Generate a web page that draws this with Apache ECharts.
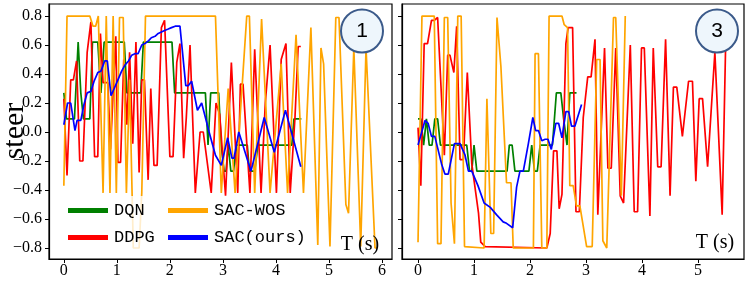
<!DOCTYPE html>
<html><head><meta charset="utf-8">
<script src="https://cdn.jsdelivr.net/npm/echarts@6/dist/echarts.min.js"></script>
<style>html,body{margin:0;padding:0;background:#fff}#c{width:747px;height:281px}</style>
</head><body><div id="c"></div>
<script>
// ---- tick labels ----
const xTicksLeft = [0, 1, 2, 3, 4, 5, 6];
const xTicksRight = [0, 1, 2, 3, 4, 5];
const yTicks = [-0.8, -0.6, -0.4, -0.2, 0, 0.2, 0.4, 0.6, 0.8];
const panelTags = ['1', '3'];
const names = ['DQN', 'DDPG', 'SAC-WOS', 'SAC(ours)'];

// ---- panel 1 (left): [time s, steer] ----
const dqnLeft = [[0,0.27],[0.05,0.09],[0.15,0.09],[0.2,0.09],[0.27,0.62],[0.32,0.27],[0.37,0.09],[0.49,0.09],[0.54,0.62],[0.64,0.62],[0.7,0.27],[0.76,0.62],[1.14,0.62],[1.19,0.27],[1.45,0.27],[1.5,0.62],[2.04,0.62],[2.09,0.27],[2.67,0.27],[2.72,-0.09],[2.77,0.27],[2.92,0.27],[2.97,-0.09],[3.02,-0.27],[3.06,-0.27],[3.1,-0.09],[3.15,-0.27],[3.2,-0.27],[3.26,-0.09],[3.46,-0.09],[3.5,-0.27],[3.6,-0.27],[3.66,-0.09],[4.3,-0.09],[4.34,0.09],[4.48,0.09]];
const ddpgLeft = [[0,0.23],[0.06,-0.30],[0.13,0.36],[0.18,0.36],[0.24,0.49],[0.30,-0.20],[0.36,-0.20],[0.44,0.55],[0.51,0.76],[0.58,-0.17],[0.64,-0.17],[0.69,0.68],[0.74,0.34],[0.83,0.34],[0.88,-0.12],[0.98,0.66],[1.02,-0.21],[1.07,-0.21],[1.13,0.5],[1.19,0.05],[1.24,0.55],[1.30,-0.08],[1.36,0.62],[1.42,-0.28],[1.47,0.36],[1.52,0.36],[1.59,-0.33],[1.64,0.3],[1.70,-0.23],[1.76,-0.23],[1.84,0.72],[1.90,0.77],[2.0,-0.17],[2.06,-0.17],[2.13,0.48],[2.19,0.61],[2.26,-0.18],[2.31,0.1],[2.38,0.6],[2.48,-0.42],[2.57,0.0],[2.63,0.0],[2.78,-0.42],[2.87,0.2],[2.94,0.12],[3.05,-0.44],[3.16,0.48],[3.28,-0.42],[3.33,0.33],[3.38,0.33],[3.51,-0.42],[3.6,0.57],[3.72,-0.42],[3.8,0.2],[3.89,0.6],[4.01,-0.42],[4.1,0.5],[4.19,0.61],[4.27,-0.42],[4.36,0.1],[4.42,0.59],[4.47,0.59]];
const sacwosLeft = [[0,-0.37],[0.06,0.8],[0.49,0.8],[0.55,0.73],[0.6,0.73],[0.65,0.8],[0.68,0.8],[0.74,-0.42],[0.8,0.8],[0.87,-0.42],[0.93,0.8],[0.99,-0.42],[1.05,0.79],[1.12,0.79],[1.18,-0.42],[1.24,0.36],[1.31,-0.8],[1.42,-0.8],[1.47,-0.42],[1.54,0.8],[2.86,0.8],[2.97,-0.42],[3.1,0.3],[3.23,-0.42],[3.45,0.8],[3.5,0.8],[3.6,-0.42],[3.73,0.78],[3.89,-0.42],[4.1,0.47],[4.22,-0.42],[4.38,0.67],[4.52,-0.42],[4.66,0.72],[4.79,-0.78],[4.85,0.58],[4.9,0.47],[5.02,-0.79],[5.13,0.79],[5.19,0.79],[5.32,-0.5],[5.37,-0.56],[5.47,0.58],[5.6,-0.79],[5.7,0.58],[5.87,-0.8],[5.9,-0.8]];
const sacLeft = [[0,0.05],[0.07,0.2],[0.13,0.2],[0.21,0.01],[0.25,0.08],[0.32,0.08],[0.38,0.19],[0.44,0.27],[0.51,0.28],[0.57,0.35],[0.64,0.41],[0.70,0.42],[0.77,0.49],[0.82,0.49],[0.89,0.25],[0.95,0.3],[1.02,0.36],[1.09,0.42],[1.15,0.46],[1.22,0.49],[1.28,0.53],[1.34,0.54],[1.40,0.54],[1.47,0.6],[1.53,0.61],[1.6,0.63],[1.65,0.65],[1.72,0.66],[1.78,0.68],[1.84,0.69],[1.9,0.7],[1.97,0.71],[2.03,0.72],[2.1,0.73],[2.19,0.73],[2.3,0.32],[2.35,0.32],[2.41,0.35],[2.52,0.15],[2.6,0.2],[2.74,0.0],[2.86,-0.16],[2.97,-0.23],[3.09,-0.04],[3.17,-0.18],[3.21,-0.18],[3.30,0.0],[3.53,-0.27],[3.78,0.10],[3.97,-0.14],[4.18,0.15],[4.47,-0.24]];

// ---- panel 3 (right): [time s, steer] ----
const dqnRight = [[0,0.09],[0.05,0.09],[0.1,-0.09],[0.15,0.09],[0.2,-0.09],[0.25,-0.09],[0.3,0.09],[0.35,0.09],[0.4,-0.09],[0.87,-0.09],[0.92,-0.27],[0.96,-0.27],[1.0,-0.09],[1.05,-0.27],[1.59,-0.27],[1.63,-0.09],[1.68,-0.09],[1.73,-0.27],[1.98,-0.27],[2.03,-0.09],[2.08,-0.27],[2.13,-0.27],[2.18,-0.09],[2.4,-0.09],[2.47,0.27],[2.55,0.27],[2.6,0.09],[2.66,-0.09],[2.71,0.27],[2.83,0.27]];
const ddpgRight = [[0,0.03],[0.05,-0.37],[0.11,0.61],[0.17,0.61],[0.24,0.77],[0.29,0.77],[0.35,0.79],[0.47,-0.16],[0.53,0.53],[0.57,0.53],[0.64,0.41],[0.69,0.73],[0.75,-0.19],[0.81,-0.19],[0.88,0.41],[0.96,-0.22],[1.08,-0.56],[1.12,-0.76],[1.2,-0.79],[2.3,-0.8],[2.36,-0.7],[2.42,-0.13],[2.48,-0.13],[2.52,-0.53],[2.57,-0.43],[2.64,0.61],[2.68,0.72],[2.76,0.72],[2.82,-0.55],[2.88,-0.55],[2.95,0.1],[3.03,0.38],[3.09,0.38],[3.16,0.64],[3.21,-0.57],[3.33,0.58],[3.39,-0.25],[3.45,-0.25],[3.53,0.58],[3.61,-0.44],[3.67,-0.49],[3.79,0.6],[3.86,-0.55],[3.92,-0.55],[3.99,0.58],[4.04,0.58],[4.14,-0.58],[4.2,0.58],[4.28,-0.24],[4.34,-0.24],[4.42,0.64],[4.5,-0.44],[4.56,0.31],[4.62,0.31],[4.72,-0.03],[4.83,0.35],[4.9,0.35],[4.96,-0.34],[5.02,0.23],[5.08,0.23],[5.17,-0.24],[5.2,-0.24],[5.3,0.55],[5.43,-0.57],[5.49,0.56]];
const sacwosRight = [[0,-0.76],[0.07,0.8],[0.29,0.8],[0.35,-0.77],[0.41,-0.77],[0.47,0.79],[0.53,0.79],[0.59,-0.49],[0.65,-0.77],[0.71,0.8],[0.77,0.8],[0.83,-0.79],[1.18,-0.8],[1.23,0.23],[1.3,-0.7],[1.35,-0.7],[1.41,0.79],[1.48,0.45],[1.58,-0.35],[1.66,-0.35],[1.7,-0.8],[2.06,-0.8],[2.09,0.54],[2.15,0.54],[2.21,-0.8],[2.3,-0.8],[2.34,0.8],[2.57,0.8],[2.61,0.74],[2.67,0.72],[2.71,-0.37],[2.77,-0.37],[2.83,-0.51],[2.89,-0.51],[3.01,-0.79],[3.11,-0.79],[3.19,0.5],[3.25,0.5],[3.3,-0.75],[3.37,-0.8],[3.49,0.79],[3.53,0.79],[3.63,-0.44],[3.7,0.8]];
const sacRight = [[0,-0.09],[0.125,0.08],[0.18,0.06],[0.24,-0.03],[0.3,-0.03],[0.42,-0.22],[0.48,-0.29],[0.54,-0.29],[0.65,-0.08],[0.75,-0.08],[0.84,-0.16],[0.9,-0.27],[0.96,-0.27],[1.07,-0.37],[1.18,-0.49],[1.29,-0.52],[1.4,-0.57],[1.52,-0.62],[1.58,-0.63],[1.69,-0.66],[1.76,-0.38],[1.82,-0.27],[1.88,-0.27],[1.97,-0.08],[2.05,0.1],[2.1,0.01],[2.15,0.01],[2.21,-0.06],[2.27,-0.05],[2.32,-0.05],[2.38,-0.12],[2.46,0.06],[2.51,0.06],[2.57,-0.04],[2.64,0.14],[2.69,0.14],[2.74,0.04],[2.8,0.04],[2.92,0.19]];

const colors = {'DQN':'#008000','DDPG':'#ff0000','SAC-WOS':'#ffa500','SAC(ours)':'#0000ff'};
const serif = 'Liberation Serif';
const mono = 'Liberation Mono';

function fmtY(v){ const a = Math.abs(v).toFixed(1); return (v < -1e-9 ? '\u2212' : '') + a; }

function xAxis(idx, min, max, ticks){
  return {type:'value', gridIndex:idx, min:min, max:max, splitLine:{show:false},
    axisLine:{show:true, onZero:false, lineStyle:{color:'#000', width:1.2}},
    axisTick:{show:true, customValues:ticks, length:4, lineStyle:{color:'#000', width:1}},
    axisLabel:{show:true, customValues:ticks, margin:4, fontFamily:serif, fontSize:16, color:'#000', formatter:v=>String(v)}};
}
function yAxis(idx, showLabel){
  return {type:'value', gridIndex:idx, min:-0.876, max:0.883, splitLine:{show:false},
    axisLine:{show:true, onZero:false, lineStyle:{color:'#000', width:1.2}},
    axisTick:{show:true, customValues:yTicks, length:4, lineStyle:{color:'#000', width:1}},
    axisLabel:{show:showLabel, customValues:yTicks, margin:7, fontFamily:serif, fontSize:16, color:'#000', formatter:fmtY}};
}
function line(name, data, idx){
  return {type:'line', name:name, data:data, xAxisIndex:idx, yAxisIndex:idx, symbol:'none', showSymbol:false,
    color:colors[name], lineStyle:{color:colors[name], width:1.7}, emphasis:{disabled:true}, animation:false, z:2};
}
function legendAt(name, left, top){
  return {data:[name], left:left, top:top, orient:'horizontal', padding:0, itemWidth:40, itemHeight:5, itemGap:0,
    icon:'rect', selectedMode:false, z:10, textStyle:{fontFamily:mono, fontSize:17, color:'#000', padding:[0,0,0,1]}};
}

const option = {
  animation:false,
  backgroundColor:'#fff',
  textStyle:{fontFamily:serif},
  grid:[
    {left:49, top:4, width:343, height:255, show:true, borderColor:'#000', borderWidth:1.2, backgroundColor:'transparent'},
    {left:402, top:4, width:342, height:255, show:true, borderColor:'#000', borderWidth:1.2, backgroundColor:'transparent'}
  ],
  xAxis:[xAxis(0, -0.28, 6.19, xTicksLeft), xAxis(1, -0.286, 5.82, xTicksRight)],
  yAxis:[yAxis(0, true), yAxis(1, false)],
  legend:[legendAt('DQN', 68, 202), legendAt('SAC-WOS', 168, 202), legendAt('DDPG', 68, 229), legendAt('SAC(ours)', 168, 229)],
  series:[
    line('DQN', dqnLeft, 0), line('DDPG', ddpgLeft, 0), line('SAC-WOS', sacwosLeft, 0), line('SAC(ours)', sacLeft, 0),
    line('DQN', dqnRight, 1), line('DDPG', ddpgRight, 1), line('SAC-WOS', sacwosRight, 1), line('SAC(ours)', sacRight, 1)
  ],
  graphic:[
    {type:'rect', z:9, shape:{x:62, y:196, width:253, height:56, r:4}, style:{fill:'rgba(255,255,255,0.8)'}},
    {type:'ellipse', z:10, shape:{cx:362, cy:31, rx:21, ry:21.5}, style:{fill:'#eef6fc', stroke:'#3b5a8a', lineWidth:2}},
    {type:'text', z:11, x:362, y:31, style:{text:panelTags[0], font:'21px "Liberation Sans"', fill:'#000', align:'center', verticalAlign:'middle'}},
    {type:'ellipse', z:10, shape:{cx:717, cy:31, rx:21, ry:21.5}, style:{fill:'#eef6fc', stroke:'#3b5a8a', lineWidth:2}},
    {type:'text', z:11, x:717, y:31, style:{text:panelTags[1], font:'21px "Liberation Sans"', fill:'#000', align:'center', verticalAlign:'middle'}},
    {type:'text', z:11, x:360, y:245, style:{text:'T (s)', font:'20px "Liberation Serif"', fill:'#000', align:'center', verticalAlign:'middle'}},
    {type:'text', z:11, x:715, y:243, style:{text:'T (s)', font:'20px "Liberation Serif"', fill:'#000', align:'center', verticalAlign:'middle'}},
    {type:'text', z:11, x:15, y:131, rotation:Math.PI/2, style:{text:'steer', font:'30px "Liberation Serif"', fill:'#000', align:'center', verticalAlign:'middle'}}
  ]
};
const chart = echarts.init(document.getElementById('c'), null, {renderer:'canvas'});
chart.setOption(option);
</script>
</body></html>
